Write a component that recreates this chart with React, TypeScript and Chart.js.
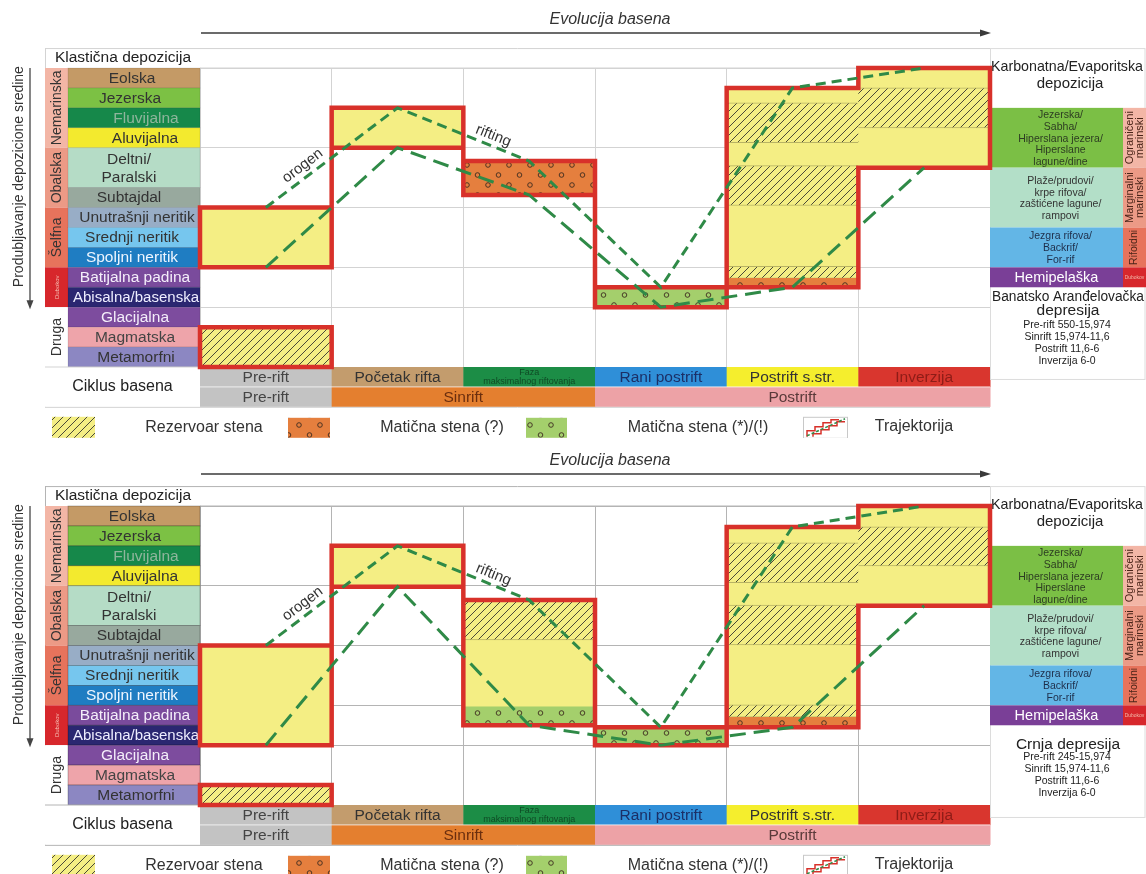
import React, { useEffect, useRef } from "react";
import { Chart, registerables } from "chart.js";

Chart.register(...registerables);

type Rng = [number, number] | null;

const FONT = '"Liberation Sans", Arial, Helvetica, sans-serif';

// ---------------- shared categories / labels ----------------
const TITLE = "Evolucija basena";
const AXIS_LABEL = "Produbljavanje depozicione sredine";
const PHASES = ["Pre-rift", "Početak rifta", "Faza maksimalnog riftovanja", "Rani postrift", "Postrift s.str.", "Inverzija"];
const CYCLES = ["Pre-rift", "Sinrift", "Postrift"];
const CYCLE_FROM = [0, 1, 3];
const CYCLE_TO = [1, 3, 6];

const ENV_HEADER = "Klastična depozicija";
const ENV_LABELS = [
  "Eolska", "Jezerska", "Fluvijalna", "Aluvijalna", "Deltni/|Paralski", "Subtajdal",
  "Unutrašnji neritik", "Srednji neritik", "Spoljni neritik", "Batijalna padina",
  "Abisalna/basenska", "Glacijalna", "Magmatska", "Metamorfni",
];
const ENV_TOP = [0, 1, 2, 3, 4, 6, 7, 8, 9, 10, 11, 12, 13, 14];
const ENV_BOTTOM = [1, 2, 3, 4, 6, 7, 8, 9, 10, 11, 12, 13, 14, 15];
const GROUP_LABELS = ["Nemarinska", "Obalska", "Šelfna", "Dubokov", "Druga"];
const GROUP_TOP = [0, 4, 7, 10, 12];
const GROUP_BOTTOM = [4, 7, 10, 12, 15];

const CARB_HEADER = ["Karbonatna/Evaporitska", "depozicija"];
const CARB_LABELS = [
  ["Jezerska/", "Sabha/", "Hiperslana jezera/", "Hiperslane", "lagune/dine"],
  ["Plaže/prudovi/", "krpe rifova/", "zaštićene lagune/", "rampovi"],
  ["Jezgra rifova/", "Backrif/", "For-rif"],
  ["Hemipelaška"],
];
const CARB_TOP = [2, 5, 8, 10];
const CARB_BOTTOM = [5, 8, 10, 11];
const CARB_GROUPS = [["Ograničeni", "marinski"], ["Marginalni", "marinski"], ["Rifoidni"], ["Dubokov"]];

const LEGEND_LABELS = ["Rezervoar stena", "Matična stena (?)", "Matična stena (*)/(!)", "Trajektorija"];
const ANNOTATIONS = ["orogen", "rifting"];

// ---------------- upper panel: Banatsko Aranđelovačka depresija ----------------
const A_NAME = ["Banatsko Aranđelovačka", "depresija"];
const A_AGES = ["Pre-rift 550-15,974", "Sinrift 15,974-11,6", "Postrift 11,6-6", "Inverzija 6-0"];
const A_BOX_TOP = [7, 2, 4.67, 11, 1, 0];
const A_BOX_BOTTOM = [10, 4, 6.37, 12, 11, 5];
const A_EXTRA: Rng[] = [[13, 15], null, null, null, null, null];
const A_HATCH_1: Rng[] = [[13, 15], null, null, null, [1.75, 3.75], [1, 3]];
const A_HATCH_2: Rng[] = [null, null, null, null, [4.9, 6.9], null];
const A_HATCH_3: Rng[] = [null, null, null, null, [9.95, 10.55], null];
const A_SOURCE_Q: Rng[] = [null, null, [4.67, 6.37], null, [10.55, 11], null];
const A_SOURCE_X: Rng[] = [null, null, null, [11, 12], null, null];

// ---------------- lower panel: Crnja depresija ----------------
const B_NAME = ["Crnja depresija"];
const B_AGES = ["Pre-rift 245-15,974", "Sinrift 15,974-11,6", "Postrift 11,6-6", "Inverzija 6-0"];
const B_BOX_TOP = [7, 2, 4.72, 11.1, 1.05, 0];
const B_BOX_BOTTOM = [12, 4.05, 11, 12, 11.1, 5];
const B_EXTRA: Rng[] = [[14, 15], null, null, null, null, null];
const B_HATCH_1: Rng[] = [[14, 15], null, [4.72, 6.72], null, [1.85, 3.85], [1.05, 3]];
const B_HATCH_2: Rng[] = [null, null, null, null, [4.97, 6.97], null];
const B_HATCH_3: Rng[] = [null, null, null, null, [9.98, 10.6], null];
const B_SOURCE_Q: Rng[] = [null, null, null, null, [10.6, 11.1], null];
const B_SOURCE_X: Rng[] = [null, null, [10.08, 11], [11.1, 12], null, null];

// ---------------- styles ----------------
const ENV_COLORS = ["#c49a66", "#7cc144", "#16884a", "#f3ea2e", "#b5dcc6", "#98a99e", "#98adc6", "#76c6ee", "#1f7dc2", "#7a4b9c", "#2b2771", "#7d4c9e", "#eea4aa", "#8c87c2"];
const ENV_TEXT = ["#333", "#333", "#8fb59c", "#333", "#333", "#333", "#333", "#333", "#eef6ff", "#f4eefa", "#eeeeff", "#f4eefa", "#444", "#333"];
const ENV_DX = [-2, -4, 12, 11, -5, -5, 3, -2, -2, 1, 2, 1, 1, 2];
const GROUP_COLORS = ["#f3b6a6", "#ec9a86", "#e7735c", "#d7272c", "#ffffff"];
const CARB_COLORS = ["#7bbf45", "#b3dfc8", "#63b6e6", "#7a3f97"];
const CARB_TEXT = ["#2d3d22", "#333", "#1e2e4a", "#ffffff"];
const CARB_GROUP_COLORS = ["#f3b6a6", "#ec9a86", "#e7735c", "#d7272c"];
const PHASE_COLORS = ["#c3c3c3", "#c39c6d", "#1c8d46", "#2f8fd8", "#f5ee2d", "#d9362e"];
const PHASE_TEXT = ["#444", "#333", "#0f4a25", "#1b2f66", "#333", "#8e1c17"];
const CYCLE_COLORS = ["#c3c3c3", "#e47f2f", "#eda2a6"];
const CYCLE_TEXT = ["#444", "#6b2e0e", "#5a3a3a"];
const RED = "#d8312a";
const YELLOW = "#f4ee84";
const GREEN_LINE = "#2f8a47";

type Spec = {
  titleY: number; arrowY: number; grid: string; cell: string;
  top: number[]; bottom: number[]; extra: Rng[]; hatch: Rng[][]; srcQ: Rng[]; srcX: Rng[];
  name: string[]; nameY: number[]; ages: string[]; agesY: number;
};

const SPECS: Spec[] = [
  {
    titleY: 20, arrowY: 33, grid: "#d3d3d3", cell: "rgba(0,0,0,0.12)",
    top: A_BOX_TOP, bottom: A_BOX_BOTTOM, extra: A_EXTRA, hatch: [A_HATCH_1, A_HATCH_2, A_HATCH_3],
    srcQ: A_SOURCE_Q, srcX: A_SOURCE_X, name: A_NAME, nameY: [297, 311], ages: A_AGES, agesY: 325,
  },
  {
    titleY: 23, arrowY: 36, grid: "#b4b4b4", cell: "rgba(0,0,0,0.3)",
    top: B_BOX_TOP, bottom: B_BOX_BOTTOM, extra: B_EXTRA, hatch: [B_HATCH_1, B_HATCH_2, B_HATCH_3],
    srcQ: B_SOURCE_Q, srcX: B_SOURCE_X, name: B_NAME, nameY: [307], ages: B_AGES, agesY: 319,
  },
];

// ---------------- helpers ----------------
function makeHatch(): CanvasPattern | string {
  const c = document.createElement("canvas");
  c.width = 8; c.height = 8;
  const g = c.getContext("2d");
  if (!g) return YELLOW;
  g.fillStyle = YELLOW; g.fillRect(0, 0, 8, 8);
  g.strokeStyle = "#2a2a2a"; g.lineWidth = 0.85;
  g.beginPath();
  g.moveTo(-1, 9); g.lineTo(9, -1);
  g.moveTo(-1, 1); g.lineTo(1, -1);
  g.moveTo(7, 9); g.lineTo(9, 7);
  g.stroke();
  return g.createPattern(c, "repeat") || YELLOW;
}
function makeDots(bg: string): CanvasPattern | string {
  const c = document.createElement("canvas");
  c.width = 21; c.height = 20;
  const g = c.getContext("2d");
  if (!g) return bg;
  g.fillStyle = bg; g.fillRect(0, 0, 21, 20);
  g.strokeStyle = "#3d2b1f"; g.lineWidth = 0.9;
  for (const [x, y] of [[5, 5], [15.5, 15]]) {
    g.beginPath(); g.arc(x, y, 2.3, 0, Math.PI * 2); g.stroke();
  }
  return g.createPattern(c, "repeat") || bg;
}

function text(ctx: CanvasRenderingContext2D, s: string, x: number, y: number, font: string, color: string, maxW?: number) {
  ctx.font = font; ctx.fillStyle = color; ctx.textAlign = "center"; ctx.textBaseline = "middle";
  if (maxW) ctx.fillText(s, x, y, maxW); else ctx.fillText(s, x, y);
}
function vtext(ctx: CanvasRenderingContext2D, s: string, x: number, y: number, font: string, color: string, maxW?: number) {
  ctx.save(); ctx.translate(x, y); ctx.rotate(-Math.PI / 2); text(ctx, s, 0, 0, font, color, maxW); ctx.restore();
}
function seg(ctx: CanvasRenderingContext2D, x1: number, y1: number, x2: number, y2: number) {
  ctx.beginPath(); ctx.moveTo(x1, y1); ctx.lineTo(x2, y2); ctx.stroke();
}
function tri(ctx: CanvasRenderingContext2D, p: number[][], color: string) {
  ctx.fillStyle = color; ctx.beginPath(); ctx.moveTo(p[0][0], p[0][1]);
  ctx.lineTo(p[1][0], p[1][1]); ctx.lineTo(p[2][0], p[2][1]); ctx.closePath(); ctx.fill();
}

function outline(top: number[], bottom: number[]) {
  const pts: { x: number; y: number }[] = [];
  for (let i = 0; i < top.length; i++) { pts.push({ x: i, y: top[i] }); pts.push({ x: i + 1, y: top[i] }); }
  for (let i = bottom.length - 1; i >= 0; i--) { pts.push({ x: i + 1, y: bottom[i] }); pts.push({ x: i, y: bottom[i] }); }
  pts.push({ x: 0, y: top[0] });
  return pts;
}
function rectOutline(r: Rng[]) {
  const pts: { x: number; y: number }[] = [];
  r.forEach((v, i) => {
    if (!v) return;
    pts.push({ x: i, y: v[0] }, { x: i + 1, y: v[0] }, { x: i + 1, y: v[1] }, { x: i, y: v[1] }, { x: i, y: v[0] });
  });
  return pts;
}

function drawTable(chart: any, S: Spec, pats: any) {
  const ctx: CanvasRenderingContext2D = chart.ctx;
  const xs = chart.scales.x, ys = chart.scales.y;
  const X = (v: number) => xs.getPixelForValue(v);
  const Y = (v: number) => ys.getPixelForValue(v);
  const L = chart.chartArea.left, R = chart.chartArea.right;
  const TL = L - 155, GR = L - 132, RB = R + 133, RE = chart.width;
  ctx.save();

  // title + arrow
  text(ctx, TITLE, L + 410, S.titleY, "italic 16px " + FONT, "#333");
  ctx.strokeStyle = "#3a3a3a"; ctx.lineWidth = 1.3;
  seg(ctx, L + 1, S.arrowY, R - 6, S.arrowY);
  tri(ctx, [[R + 1, S.arrowY], [R - 10, S.arrowY - 3.5], [R - 10, S.arrowY + 3.5]], "#3a3a3a");

  // vertical axis label + arrow
  vtext(ctx, AXIS_LABEL, 19, Y(5.45), "14px " + FONT, "#333");
  ctx.strokeStyle = "#444"; ctx.lineWidth = 1.3;
  seg(ctx, 30, Y(0), 30, Y(11.7));
  tri(ctx, [[30, Y(11.7) + 8], [26.5, Y(11.7) - 1], [33.5, Y(11.7) - 1]], "#444");

  // header row
  ctx.fillStyle = "#fff"; ctx.fillRect(TL, Y(-1), L - TL, Y(0) - Y(-1));
  text(ctx, ENV_HEADER, TL + 78, (Y(-1) + Y(0)) / 2, "15.5px " + FONT, "#222", 150);
  ctx.strokeStyle = S.grid; ctx.lineWidth = 1;
  seg(ctx, TL, Y(-1) + 0.5, R, Y(-1) + 0.5);
  seg(ctx, L, Y(0), R, Y(0));
  seg(ctx, TL + 0.5, Y(-1), TL + 0.5, Y(17));

  // group strips
  GROUP_LABELS.forEach((g, i) => {
    const y0 = Y(GROUP_TOP[i]), y1 = Y(GROUP_BOTTOM[i]);
    ctx.fillStyle = GROUP_COLORS[i]; ctx.fillRect(TL, y0, GR - TL, y1 - y0);
    const small = g === "Dubokov";
    vtext(ctx, g, (TL + GR) / 2 + 0.5, (y0 + y1) / 2, (small ? "6px " : "14px ") + FONT, small ? "#f6c2b5" : "#333", y1 - y0 - 2);
  });
  // environment rows
  ENV_LABELS.forEach((lab, i) => {
    const y0 = Y(ENV_TOP[i]), y1 = Y(ENV_BOTTOM[i]);
    ctx.fillStyle = ENV_COLORS[i]; ctx.fillRect(GR, y0, L - GR, y1 - y0);
    ctx.strokeStyle = S.cell; ctx.lineWidth = 0.8; ctx.strokeRect(GR, y0, L - GR, y1 - y0);
    const cx = (GR + L) / 2 + ENV_DX[i], cy = (y0 + y1) / 2;
    const parts = lab.split("|");
    if (parts.length === 2) {
      text(ctx, parts[0], cx, cy - 8, "15.5px " + FONT, ENV_TEXT[i]);
      text(ctx, parts[1], cx, cy + 10, "15.5px " + FONT, ENV_TEXT[i]);
    } else text(ctx, lab, cx, cy + 0.5, "15.5px " + FONT, ENV_TEXT[i], L - GR - 6);
  });

  // basin cycle rows
  ctx.fillStyle = "#fff"; ctx.fillRect(TL, Y(15), L - TL, Y(17) - Y(15));
  text(ctx, "Ciklus basena", (TL + L) / 2, Y(16), "16px " + FONT, "#222");
  PHASES.forEach((p, i) => {
    const x0 = X(i), x1 = X(i + 1), y0 = Y(15), y1 = Y(16);
    ctx.fillStyle = PHASE_COLORS[i]; ctx.fillRect(x0, y0, x1 - x0 + 0.5, y1 - y0);
    if (i === 2) {
      text(ctx, "Faza", (x0 + x1) / 2, y0 + 5.5, "9px " + FONT, PHASE_TEXT[i]);
      text(ctx, "maksimalnog riftovanja", (x0 + x1) / 2, y0 + 15, "9px " + FONT, PHASE_TEXT[i], x1 - x0 - 4);
    } else text(ctx, p, (x0 + x1) / 2, (y0 + y1) / 2 + 0.5, "15.5px " + FONT, PHASE_TEXT[i], x1 - x0 - 10);
  });
  CYCLES.forEach((c, i) => {
    const x0 = X(CYCLE_FROM[i]), x1 = X(CYCLE_TO[i]), y0 = Y(16), y1 = Y(17);
    ctx.fillStyle = CYCLE_COLORS[i]; ctx.fillRect(x0, y0, x1 - x0 + 0.5, y1 - y0);
    text(ctx, c, (x0 + x1) / 2, (y0 + y1) / 2 + 0.5, "15.5px " + FONT, CYCLE_TEXT[i]);
  });
  ctx.strokeStyle = "rgba(255,255,255,0.7)"; ctx.lineWidth = 1;
  seg(ctx, L, Y(16), R, Y(16));
  ctx.strokeStyle = S.grid;
  seg(ctx, TL, Y(17) + 0.5, R, Y(17) + 0.5);
  seg(ctx, TL, Y(15), L, Y(15));

  // right column
  ctx.strokeStyle = "#dcdcdc"; ctx.lineWidth = 1;
  ctx.strokeRect(R + 0.5, Y(-1) + 0.5, RE - R - 1.5, Y(15.6) - Y(-1));
  text(ctx, CARB_HEADER[0], (R + RE) / 2 - 1, Y(-0.05), "15px " + FONT, "#222", RE - R - 4);
  text(ctx, CARB_HEADER[1], (R + RE) / 2 + 2, Y(0.8), "15px " + FONT, "#222");
  CARB_LABELS.forEach((lines, i) => {
    const y0 = Y(CARB_TOP[i]), y1 = Y(CARB_BOTTOM[i]);
    ctx.fillStyle = CARB_COLORS[i]; ctx.fillRect(R, y0, RB - R, y1 - y0);
    ctx.fillStyle = CARB_GROUP_COLORS[i]; ctx.fillRect(RB, y0, RE - RB, y1 - y0);
    const cy = (y0 + y1) / 2;
    if (lines.length === 1) {
      text(ctx, lines[0], (R + RB) / 2, cy + 0.5, "14.5px " + FONT, CARB_TEXT[i]);
    } else {
      const lh = 11.8;
      lines.forEach((s, k) => {
        text(ctx, s, (R + RB) / 2 + 4, cy + 1 + (k - (lines.length - 1) / 2) * lh, "10.5px " + FONT, CARB_TEXT[i], RB - R - 8);
      });
    }
    const gl = CARB_GROUPS[i];
    const sx = (RB + RE) / 2;
    if (gl[0] === "Dubokov") {
      text(ctx, gl[0], sx, cy, "5px " + FONT, "#f2b8a8");
    } else if (gl.length === 2) {
      vtext(ctx, gl[0], sx - 5, cy, "11px " + FONT, "#4a2418", y1 - y0 - 2);
      vtext(ctx, gl[1], sx + 5.5, cy, "11px " + FONT, "#4a2418", y1 - y0 - 2);
    } else {
      vtext(ctx, gl[0], sx, cy, "10.5px " + FONT, "#4a2418", y1 - y0 - 2);
    }
  });
  S.name.forEach((s, k) => text(ctx, s, (R + RE) / 2, S.nameY[k], "15.5px " + FONT, "#222", RE - R - 4));
  S.ages.forEach((s, k) => text(ctx, s, (R + RE) / 2 - 1, S.agesY + k * 12, "10.5px " + FONT, "#222"));

  // legend
  const ly = Y(18.05);
  ctx.fillStyle = pats.hatch; ctx.fillRect(52, ly - 11, 43, 21);
  text(ctx, LEGEND_LABELS[0], 204, ly, "16px " + FONT, "#333");
  ctx.fillStyle = pats.orange; ctx.fillRect(288, ly - 10, 42, 20);
  text(ctx, LEGEND_LABELS[1], 442, ly, "16px " + FONT, "#333");
  ctx.fillStyle = pats.green; ctx.fillRect(526, ly - 10, 41, 20);
  text(ctx, LEGEND_LABELS[2], 698, ly, "16px " + FONT, "#333");
  ctx.fillStyle = "#fff"; ctx.fillRect(803, ly - 11, 44, 21);
  ctx.strokeStyle = "#c8c8c8"; ctx.lineWidth = 1; ctx.strokeRect(803.5, ly - 10.5, 44, 21);
  ctx.strokeStyle = RED; ctx.lineWidth = 1.5;
  ctx.beginPath();
  ctx.moveTo(807, ly + 9); ctx.lineTo(807, ly + 3); ctx.lineTo(815, ly + 3); ctx.lineTo(815, ly - 1);
  ctx.lineTo(823, ly - 1); ctx.lineTo(823, ly - 5); ctx.lineTo(831, ly - 5); ctx.lineTo(831, ly - 8); ctx.lineTo(839, ly - 8);
  ctx.moveTo(813, ly + 9); ctx.lineTo(813, ly + 6); ctx.lineTo(821, ly + 6); ctx.lineTo(821, ly + 2);
  ctx.lineTo(829, ly + 2); ctx.lineTo(829, ly - 2); ctx.lineTo(837, ly - 2); ctx.lineTo(837, ly - 6); ctx.lineTo(845, ly - 6);
  ctx.stroke();
  ctx.strokeStyle = GREEN_LINE; ctx.setLineDash([3, 2]);
  seg(ctx, 807, ly + 8, 845, ly - 9);
  ctx.setLineDash([]);
  text(ctx, LEGEND_LABELS[3], 914, ly - 1, "16px " + FONT, "#333");
  ctx.restore();
}

function drawNotes(chart: any, S: Spec) {
  const ctx: CanvasRenderingContext2D = chart.ctx;
  const xs = chart.scales.x, ys = chart.scales.y;
  const P = (i: number) => ({ x: xs.getPixelForValue(i + 0.5), y: ys.getPixelForValue(S.top[i]) });
  const place = (label: string, i: number, t: number, off: number) => {
    const a = P(i), b = P(i + 1);
    const dx = b.x - a.x, dy = b.y - a.y, len = Math.hypot(dx, dy);
    const nx = dy / len, ny = -dx / len;
    const px = a.x + dx * t + nx * off, py = a.y + dy * t + ny * off;
    ctx.save(); ctx.translate(px, py); ctx.rotate(Math.atan2(dy, dx));
    text(ctx, label, 0, 0, "15px " + FONT, "#333");
    ctx.restore();
  };
  place(ANNOTATIONS[0], 0, 0.33, 11);
  place(ANNOTATIONS[1], 1, 0.7, 10);
}

function buildConfig(S: Spec, height: number): any {
  const pats = { hatch: makeHatch(), orange: makeDots("#e57f3e"), green: makeDots("#a4cf6c") };
  const barBase = { type: "bar", xAxisID: "xc", yAxisID: "y", grouped: false, barPercentage: 1, categoryPercentage: 1, borderSkipped: false, clip: false };
  const bandBorder = { top: 1, bottom: 1, left: 0, right: 0 };
  const datasets: any[] = [
    { ...barBase, label: "fill", data: S.top.map((t, i) => [t, S.bottom[i]]), backgroundColor: YELLOW, borderWidth: 0, order: 10 },
    ...S.hatch.map((h, k) => ({ ...barBase, label: "Rezervoar stena " + k, data: h, backgroundColor: pats.hatch, borderColor: "rgba(0,0,0,0.25)", borderWidth: bandBorder, order: 9 })),
    { ...barBase, label: LEGEND_LABELS[1], data: S.srcQ, backgroundColor: pats.orange, borderWidth: 0, order: 8 },
    { ...barBase, label: LEGEND_LABELS[2], data: S.srcX, backgroundColor: pats.green, borderWidth: 0, order: 8 },
    { type: "line", label: "okvir2", xAxisID: "x", yAxisID: "y", data: rectOutline(S.extra), borderColor: RED, borderWidth: 4.5, pointRadius: 0, borderJoinStyle: "miter", borderCapStyle: "square", clip: false, order: 6 },
    { type: "line", label: LEGEND_LABELS[3], xAxisID: "x", yAxisID: "y", data: outline(S.top, S.bottom), borderColor: RED, borderWidth: 4.5, pointRadius: 0, borderJoinStyle: "miter", borderCapStyle: "square", clip: false, order: 5 },
    { type: "line", label: "gornja", xAxisID: "x", yAxisID: "y", data: S.top.map((v, i) => ({ x: i + 0.5, y: v })), borderColor: GREEN_LINE, borderWidth: 3, borderDash: [10, 6], pointRadius: 0, clip: false, order: 4 },
    { type: "line", label: "donja", xAxisID: "x", yAxisID: "y", data: S.bottom.map((v, i) => ({ x: i + 0.5, y: v })), borderColor: GREEN_LINE, borderWidth: 3, borderDash: [16, 8], pointRadius: 0, clip: false, order: 4 },
  ];
  const yGrid = [...GROUP_TOP, GROUP_BOTTOM[GROUP_BOTTOM.length - 1]];
  return {
    type: "line",
    data: { labels: PHASES, datasets },
    options: {
      responsive: false, animation: false, devicePixelRatio: 1, events: [],
      layout: { padding: { left: 200, right: 156, top: 68, bottom: height - 367 } },
      plugins: { legend: { display: false }, tooltip: { enabled: false }, title: { display: false } },
      scales: {
        x: {
          type: "linear", min: 0, max: 6, offset: false, position: "bottom",
          ticks: { display: false, stepSize: 1 }, grid: { color: S.grid, drawTicks: false, offset: false }, border: { display: false },
          afterFit: (s: any) => { s.height = 0; },
        },
        xc: { type: "category", labels: PHASES, offset: true, display: false },
        y: {
          type: "linear", min: 0, max: 15, reverse: true, offset: false,
          ticks: { display: false }, grid: { color: S.grid, drawTicks: false }, border: { display: false },
          afterBuildTicks: (s: any) => { s.ticks = yGrid.map((v) => ({ value: v })); },
          afterFit: (s: any) => { s.width = 0; },
        },
      },
    },
    plugins: [{
      id: "decor",
      beforeDatasetsDraw: (chart: any) => drawTable(chart, S, pats),
      afterDatasetsDraw: (chart: any) => drawNotes(chart, S),
    }],
  };
}

function Panel({ spec, top, height }: { spec: Spec; top: number; height: number }) {
  const ref = useRef<HTMLCanvasElement | null>(null);
  useEffect(() => {
    if (!ref.current) return;
    const chart = new Chart(ref.current, buildConfig(spec, height));
    return () => chart.destroy();
  }, [spec, height]);
  return (
    <canvas ref={ref} width={1146} height={height}
      style={{ position: "absolute", left: 0, top, width: 1146, height, display: "block" }} />
  );
}

export default function App() {
  return (
    <div style={{ position: "absolute", left: 0, top: 0, width: 1146, height: 874, background: "#fff", overflow: "hidden" }}>
      <Panel spec={SPECS[0]} top={0} height={438} />
      <Panel spec={SPECS[1]} top={438} height={436} />
    </div>
  );
}
